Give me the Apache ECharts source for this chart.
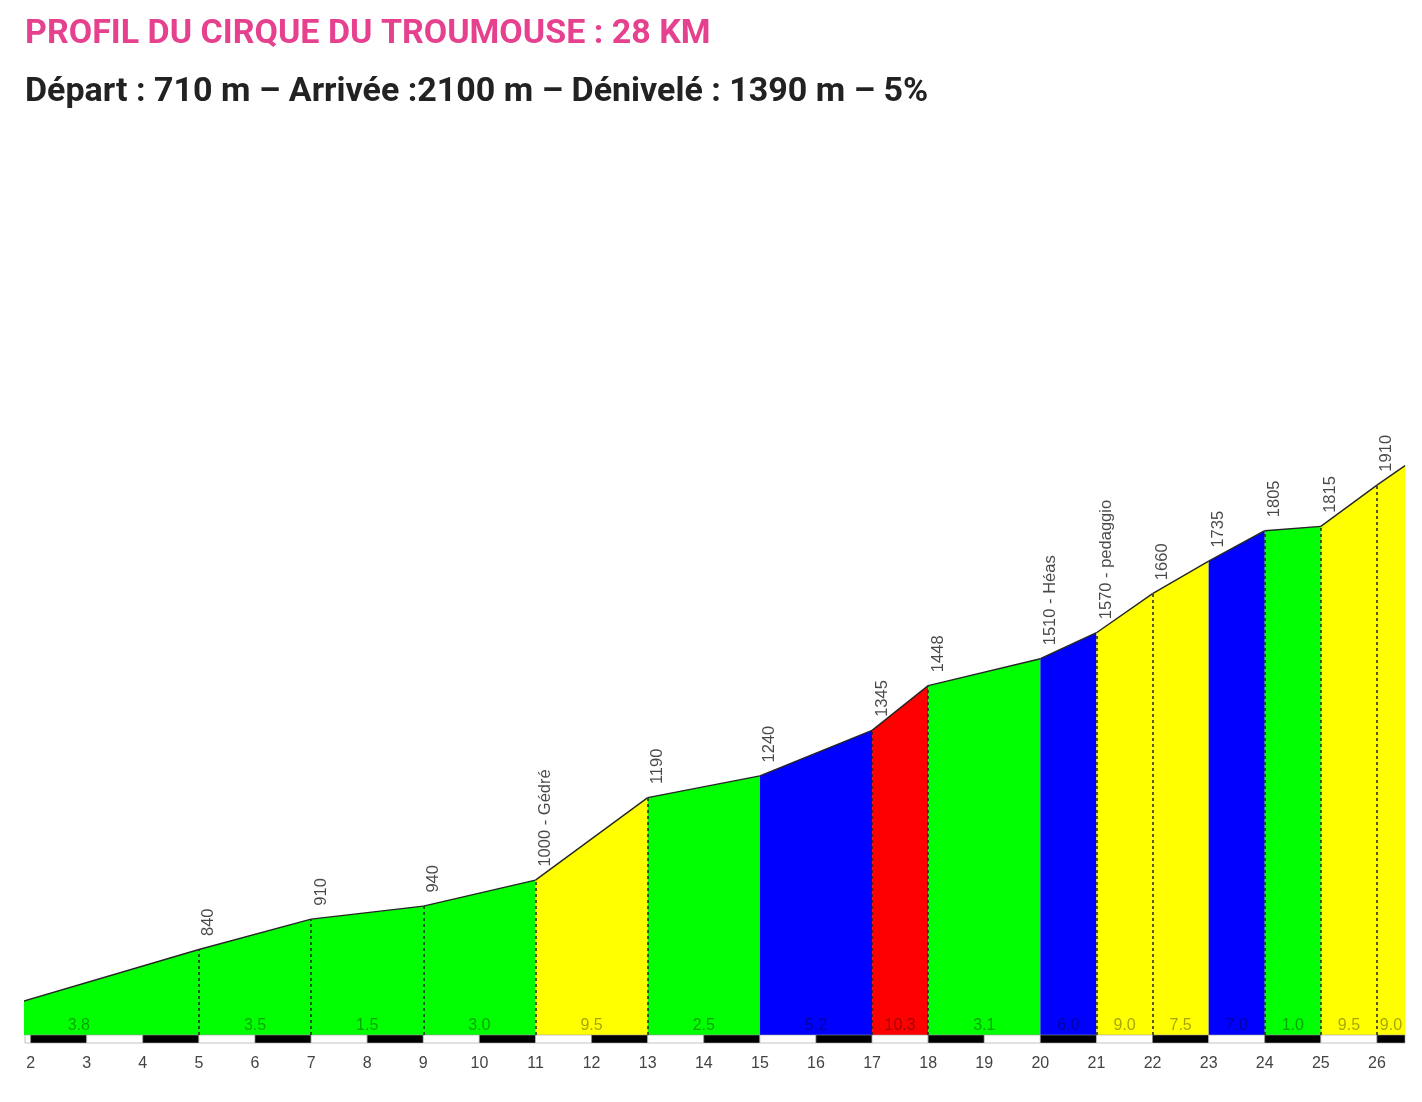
<!DOCTYPE html>
<html>
<head>
<meta charset="utf-8">
<title>Profil du Cirque du Troumouse</title>
<script src="https://cdn.jsdelivr.net/npm/echarts@6/dist/echarts.min.js"></script>
<style>
html, body { margin: 0; padding: 0; background: #fff; }
#profil { width: 1422px; height: 1102px; }
</style>
</head>
<body>
<div id="profil"></div>
<script>
// points du profil : km et altitude (m)
var kmPoints  = [0.72, 5, 7, 9, 11, 13, 15, 17, 18, 20, 21, 22, 23, 24, 25, 26, 26.5];
var altitudes = [677, 840, 910, 940, 1000, 1190, 1240, 1345, 1448, 1510, 1570, 1660, 1735, 1805, 1815, 1910, 1955];
// pente (%) et couleur de chaque tronçon
var pentes    = [3.8, 3.5, 1.5, 3.0, 9.5, 2.5, 5.2, 10.3, 3.1, 6.0, 9.0, 7.5, 7.0, 1.0, 9.5, 9.0];
var couleurs  = ['vert', 'vert', 'vert', 'vert', 'jaune', 'vert', 'bleu', 'rouge', 'vert', 'bleu', 'jaune', 'jaune', 'bleu', 'vert', 'jaune', 'jaune'];
// étiquettes des points (vide = pas d'étiquette)
var etiquettes = ['', '840', '910', '940', '1000 - Gédré', '1190', '1240', '1345', '1448', '1510 - Héas',
                  '1570 - pedaggio', '1660', '1735', '1805', '1815', '1910', ''];
// graduation km
var kmTicks = [2, 3, 4, 5, 6, 7, 8, 9, 10, 11, 12, 13, 14, 15, 16, 17, 18, 19, 20, 21, 22, 23, 24, 25, 26];

var palette = { vert: '#00ff00', jaune: '#ffff00', bleu: '#0000ff', rouge: '#ff0000' };
var altMin = 643, altMax = 2703;

var mychart = echarts.init(document.getElementById('profil'));

var series = [];

// un tronçon coloré par segment
for (var i = 0; i < pentes.length; i++) {
    series.push({
        type: 'line',
        data: [[kmPoints[i], altitudes[i]], [kmPoints[i + 1], altitudes[i + 1]]],
        symbol: 'none',
        silent: true,
        clip: true,
        lineStyle: { color: '#262626', width: 1.4 },
        areaStyle: { color: palette[couleurs[i]], opacity: 1, origin: 'start' },
        z: 2
    });
}

// pointillés verticaux aux changements de tronçon
var guides = [];
for (var j = 1; j < pentes.length; j++) {
    if (couleurs[j] !== 'bleu') {
        guides.push([{ coord: [kmPoints[j], altMin] }, { coord: [kmPoints[j], altitudes[j]] }]);
    }
}

// étiquettes d'altitude
var pointsData = [];
for (var p = 0; p < kmPoints.length; p++) {
    if (etiquettes[p]) pointsData.push({ value: [kmPoints[p], altitudes[p]], name: etiquettes[p] });
}
series.push({
    type: 'scatter',
    data: pointsData,
    symbolSize: 1,
    silent: true,
    itemStyle: { color: 'transparent' },
    label: {
        show: true,
        formatter: '{b}',
        rotate: 90,
        position: 'top',
        distance: 13,
        align: 'left',
        verticalAlign: 'middle',
        offset: [0, 10],
        fontFamily: 'Liberation Sans',
        fontSize: 16.5,
        color: '#1a1a1a'
    },
    markLine: {
        silent: true,
        symbol: ['none', 'none'],
        label: { show: false },
        lineStyle: { color: '#222', width: 1.5, type: [3, 3] },
        data: guides
    },
    z: 3
});

// pentes en bas de chaque tronçon
var pentesData = [];
for (var s = 0; s < pentes.length; s++) {
    pentesData.push({ value: [(kmPoints[s] + kmPoints[s + 1]) / 2, altMin], name: pentes[s].toFixed(1) });
}
series.push({
    type: 'scatter',
    data: pentesData,
    symbolSize: 1,
    silent: true,
    clip: false,
    itemStyle: { color: 'transparent' },
    label: {
        show: true,
        formatter: '{b}',
        position: 'top',
        distance: 1,
        fontFamily: 'Liberation Sans',
        fontSize: 16,
        color: 'rgba(0,0,0,0.45)'
    },
    z: 3
});

// barre kilométrique noir / blanc
var barre = [];
for (var k = 1; k <= 26; k++) barre.push([k, k + 1, k % 2 === 0 ? 1 : 0]);
series.push({
    type: 'custom',
    data: barre,
    encode: { x: [0, 1], y: 2 },
    silent: true,
    renderItem: function (params, api) {
        var p0 = api.coord([api.value(0), altMin]);
        var p1 = api.coord([api.value(1), altMin]);
        var cs = params.coordSys;
        var rect = echarts.graphic.clipRectByRect(
            { x: p0[0], y: p0[1], width: p1[0] - p0[0], height: 8 },
            { x: cs.x, y: cs.y, width: cs.width, height: cs.height + 20 }
        );
        if (!rect) return;
        return {
            type: 'rect',
            shape: rect,
            style: { fill: api.value(2) ? '#000' : '#fff', stroke: '#9a9a9a', lineWidth: 0.6 }
        };
    },
    z: 4
});

var option = {
    animation: false,
    backgroundColor: '#fff',
    title: [
        {
            text: 'PROFIL DU CIRQUE DU TROUMOUSE : 28 KM',
            left: 25,
            top: 17,
            padding: 0,
            textStyle: { fontFamily: 'Roboto', fontWeight: 'bold', fontSize: 34, color: '#e6418f' }
        },
        {
            text: 'Départ : 710 m – Arrivée :2100 m – Dénivelé : 1390 m – 5%',
            left: 25,
            top: 75,
            padding: 0,
            textStyle: { fontFamily: 'Roboto', fontWeight: 'bold', fontSize: 34, color: '#222' }
        }
    ],
    grid: { left: 25, right: 17, top: 141, bottom: 67 },
    xAxis: {
        type: 'value',
        min: 1.9,
        max: 26.5,
        axisLine: { show: false },
        axisTick: { show: false },
        splitLine: { show: false },
        axisLabel: {
            customValues: kmTicks,
            margin: 21,
            fontFamily: 'Liberation Sans',
            fontSize: 16,
            color: '#444'
        }
    },
    yAxis: { type: 'value', min: altMin, max: altMax, show: false },
    series: series
};

mychart.setOption(option);
</script>
</body>
</html>
